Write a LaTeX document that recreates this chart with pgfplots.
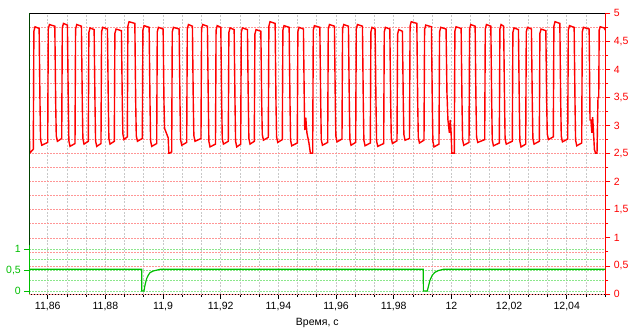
\documentclass[border=0pt]{standalone}
\usepackage{pgfplots}
\pgfplotsset{compat=1.18}
\usepackage{fontspec}
\setmainfont{Liberation Sans}
\definecolor{cRed}{RGB}{255,0,0}
\definecolor{cGrid}{RGB}{255,150,150}
\definecolor{cGreen}{RGB}{0,190,0}
\definecolor{cGreenGrid}{RGB}{140,230,140}
\definecolor{cGray}{RGB}{200,200,200}
\pgfplotsset{
 common/.style={
  at={(0,0)}, anchor=south west, scale only axis, width=576pt, height=280.7pt,
  xmin=11.853619, xmax=12.053376,
  tick align=outside, major tick length=5pt, minor tick length=3pt,
  /pgf/number format/use comma, /pgf/number format/assume math mode=true,
  tick label style={font=\fontsize{10.5}{12}\selectfont},
  scaled ticks=false,
 }
}
\begin{document}
\begin{tikzpicture}
\path[use as bounding box] (-29.3pt,-38pt) rectangle (606.7pt,294pt);
% time axis with vertical grid
\begin{axis}[common,
  ymin=0, ymax=5,
  axis x line*=bottom, axis y line=none,
  x axis line style={black, line width=1pt},
  xtick={11.84,11.86,11.88,11.9,11.92,11.94,11.96,11.98,12,12.02,12.04,12.06},
  minor x tick num=2, ytick=\empty,
  xmajorgrids, xminorgrids,
  major grid style={draw=cGray, line width=0.7pt, dash pattern=on 2pt off 1.5pt},
  minor grid style={draw=cGray, line width=0.7pt, dash pattern=on 2pt off 1.5pt},
  x tick style={black, line width=0.8pt},
  xlabel={Время, с}, xlabel style={font=\fontsize{10.5}{12}\selectfont},
]
\end{axis}
% red axis
\begin{axis}[common,
  ymin=0, ymax=5,
  axis x line=none, axis y line*=right,
  y axis line style={cRed, line width=1pt},
  xtick=\empty,
  ytick={0,0.5,1,1.5,2,2.5,3,3.5,4,4.5,5}, minor y tick num=1,
  ymajorgrids, yminorgrids,
  major grid style={draw=cGrid, line width=0.7pt, dash pattern=on 2pt off 1pt},
  minor grid style={draw=cGrid, line width=0.7pt, dash pattern=on 2pt off 1pt},
  y tick style={cRed, line width=0.8pt},
  yticklabel style={text=cRed},
]
\addplot[cRed, line width=1.4pt] coordinates {
(11.85362,2.92)(11.85380,2.51)(11.85450,2.55)
(11.85501,2.58)(11.85521,4.68)(11.85561,4.76)(11.85703,4.73)(11.85733,3.4)(11.85753,2.75)(11.85793,2.65)
(11.86000,2.70)(11.86020,4.72)(11.86060,4.80)(11.86247,4.77)(11.86277,3.4)(11.86297,2.82)(11.86337,2.72)
(11.86486,2.77)(11.86506,4.74)(11.86546,4.82)(11.86684,4.79)(11.86714,3.4)(11.86734,2.73)(11.86774,2.63)
(11.86947,2.68)(11.86967,4.72)(11.87007,4.80)(11.87170,4.77)(11.87200,3.4)(11.87220,2.77)(11.87260,2.67)
(11.87408,2.72)(11.87428,4.66)(11.87468,4.74)(11.87610,4.71)(11.87640,3.4)(11.87660,2.73)(11.87700,2.63)
(11.87848,2.68)(11.87868,4.67)(11.87908,4.75)(11.88072,4.72)(11.88102,3.4)(11.88122,2.77)(11.88162,2.67)
(11.88310,2.72)(11.88330,4.64)(11.88370,4.72)(11.88557,4.69)(11.88587,3.4)(11.88607,2.85)(11.88647,2.75)
(11.88761,2.80)(11.88781,4.77)(11.88821,4.85)(11.89022,4.82)(11.89052,3.4)(11.89072,2.82)(11.89112,2.72)
(11.89281,2.77)(11.89301,4.70)(11.89341,4.78)(11.89518,4.75)(11.89548,3.4)(11.89568,2.73)(11.89608,2.63)
(11.89780,2.68)(11.89800,4.67)(11.89840,4.75)(11.90003,4.72)(11.90033,3.4)(11.90053,2.95)(11.90180,2.78)(11.90200,2.51)(11.90229,2.51)
(11.90300,2.53)(11.90320,4.67)(11.90360,4.75)(11.90558,4.72)(11.90588,3.4)(11.90608,2.75)(11.90648,2.65)
(11.90821,2.70)(11.90841,4.72)(11.90881,4.80)(11.91019,4.77)(11.91049,3.4)(11.91069,2.82)(11.91109,2.72)
(11.91316,2.77)(11.91336,4.72)(11.91376,4.80)(11.91540,4.77)(11.91570,3.4)(11.91590,2.72)(11.91630,2.62)
(11.91819,2.67)(11.91839,4.70)(11.91879,4.78)(11.92004,4.75)(11.92034,3.4)(11.92054,2.77)(11.92094,2.67)
(11.92263,2.72)(11.92283,4.66)(11.92323,4.74)(11.92466,4.71)(11.92496,3.4)(11.92516,2.72)(11.92556,2.62)
(11.92693,2.67)(11.92713,4.66)(11.92753,4.74)(11.92927,4.71)(11.92957,3.4)(11.92977,2.77)(11.93017,2.67)
(11.93165,2.72)(11.93185,4.63)(11.93225,4.71)(11.93392,4.68)(11.93422,3.4)(11.93442,2.84)(11.93482,2.74)
(11.93650,2.79)(11.93670,4.77)(11.93710,4.85)(11.93887,4.82)(11.93917,3.4)(11.93937,2.80)(11.93977,2.70)
(11.94136,2.75)(11.94156,4.70)(11.94196,4.78)(11.94373,4.75)(11.94403,3.4)(11.94423,2.74)(11.94463,2.64)
(11.94656,2.69)(11.94676,4.67)(11.94716,4.75)(11.94869,4.72)(11.94899,3.4)(11.94915,2.92)(11.94950,3.14)(11.94990,2.87)(11.95060,2.69)(11.95110,2.51)
(11.95190,2.51)(11.95210,4.70)(11.95250,4.78)(11.95438,4.75)(11.95468,3.4)(11.95488,2.75)(11.95528,2.65)
(11.95710,2.70)(11.95730,4.72)(11.95770,4.80)(11.95944,4.77)(11.95974,3.4)(11.95994,2.81)(11.96034,2.71)
(11.96206,2.76)(11.96226,4.72)(11.96266,4.80)(11.96430,4.77)(11.96460,3.4)(11.96480,2.75)(11.96520,2.65)
(11.96681,2.70)(11.96701,4.72)(11.96741,4.80)(11.96915,4.77)(11.96945,3.4)(11.96965,2.74)(11.97005,2.64)
(11.97188,2.69)(11.97208,4.67)(11.97248,4.75)(11.97355,4.72)(11.97385,3.4)(11.97405,2.73)(11.97445,2.63)
(11.97652,2.68)(11.97672,4.67)(11.97712,4.75)(11.97865,4.72)(11.97895,3.4)(11.97915,2.78)(11.97955,2.68)
(11.98114,2.73)(11.98134,4.63)(11.98174,4.71)(11.98302,4.68)(11.98332,3.4)(11.98352,2.84)(11.98392,2.74)
(11.98547,2.77)(11.98567,4.77)(11.98607,4.85)(11.98802,4.82)(11.98832,3.4)(11.98852,2.79)(11.98892,2.69)
(11.99050,2.74)(11.99070,4.71)(11.99110,4.79)(11.99308,4.76)(11.99338,3.4)(11.99358,2.72)(11.99398,2.62)
(11.99570,2.67)(11.99590,4.67)(11.99630,4.75)(11.99815,4.72)(11.99845,3.6)(11.99880,3.1)(11.99930,2.87)(11.99960,3.1)(11.99990,2.87)(12.00015,2.51)
(12.00101,2.51)(12.00121,4.68)(12.00161,4.76)(12.00338,4.73)(12.00368,3.4)(12.00388,2.75)(12.00428,2.65)
(12.00611,2.70)(12.00631,4.72)(12.00671,4.80)(12.00823,4.77)(12.00853,3.4)(12.00873,2.80)(12.00913,2.70)
(12.01155,2.75)(12.01175,4.72)(12.01215,4.80)(12.01368,4.77)(12.01398,3.4)(12.01418,2.74)(12.01458,2.64)
(12.01662,2.69)(12.01682,4.72)(12.01722,4.80)(12.01812,4.77)(12.01842,3.5)(12.01862,2.77)(12.01902,2.67)
(12.02112,2.72)(12.02132,4.66)(12.02172,4.74)(12.02325,4.71)(12.02355,3.4)(12.02375,2.72)(12.02415,2.62)
(12.02577,2.67)(12.02597,4.67)(12.02637,4.75)(12.02776,4.72)(12.02806,3.4)(12.02826,2.77)(12.02866,2.67)
(12.03049,2.72)(12.03069,4.64)(12.03109,4.72)(12.03275,4.69)(12.03305,3.4)(12.03325,2.85)(12.03365,2.75)
(12.03534,2.80)(12.03554,4.77)(12.03594,4.85)(12.03761,4.82)(12.03791,3.4)(12.03811,2.81)(12.03851,2.71)
(12.04034,2.76)(12.04054,4.70)(12.04094,4.78)(12.04257,4.75)(12.04287,3.4)(12.04307,2.74)(12.04347,2.64)
(12.04519,2.69)(12.04539,4.67)(12.04579,4.75)(12.04777,4.72)(12.04807,3.1)(12.04840,3.1)(12.04870,2.87)(12.04900,3.15)(12.04930,2.87)(12.04960,2.57)(12.05000,2.51)(12.05050,2.51)
(12.05084,3.5)(12.05110,3.5)(12.05125,4.70)(12.05160,4.76)(12.05300,4.74)(12.05338,4.70)
};
\end{axis}
% green axis
\begin{axis}[common,
  ymin=-0.072, ymax=6.659,
  axis x line*=top, axis y line*=left,
  xtick=\empty,
  x axis line style={black, line width=1pt}, y axis line style={cGreen, line width=1pt},
  ytick={0,0.5,1}, minor ytick={0.25,0.75}, minor tick length=0pt,
  ymajorgrids, yminorgrids,
  major grid style={draw=cGreenGrid, line width=0.7pt, dash pattern=on 2pt off 1pt},
  minor grid style={draw=cGreenGrid, line width=0.7pt, dash pattern=on 2pt off 1pt},
  y tick style={cGreen, line width=0.8pt}, yticklabel style={text=cGreen},
]
\addplot[cGreen, line width=1.2pt] coordinates {
(11.85362,0.52)(11.89260,0.52)(11.89262,0.0)(11.89340,0.0)(11.89374,0.14)(11.89433,0.30)
(11.89489,0.38)(11.89548,0.44)(11.89662,0.48)(11.89780,0.50)(11.89895,0.52)
(11.99026,0.52)(11.99028,0.0)(11.99165,0.0)(11.99199,0.10)(11.99258,0.26)(11.99338,0.38)
(11.99432,0.45)(11.99546,0.49)(11.99719,0.52)(12.05338,0.52)
};
\draw[black, line width=1pt] (rel axis cs:0,0.1741) -- (rel axis cs:0,1);
\end{axis}
\end{tikzpicture}
\end{document}
